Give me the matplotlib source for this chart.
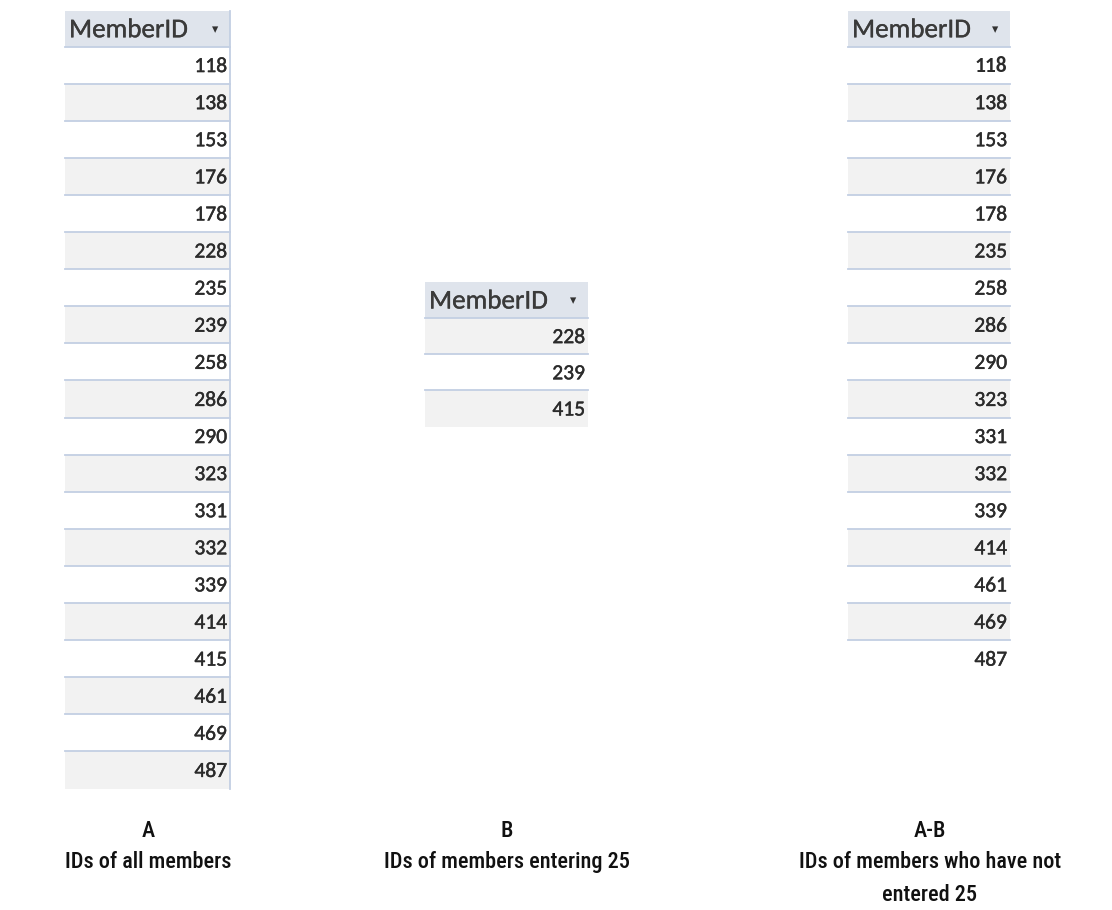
import matplotlib
matplotlib.use("Agg")
import matplotlib.pyplot as plt
from matplotlib.patches import Rectangle
import matplotlib.patheffects as pe

# data
header = "MemberID"
ids_a = [118, 138, 153, 176, 178, 228, 235, 239, 258, 286, 290, 323, 331, 332, 339, 414, 415, 461, 469, 487]
ids_b = [228, 239, 415]
ids_c = [118, 138, 153, 176, 178, 235, 258, 286, 290, 323, 331, 332, 339, 414, 461, 469, 487]
titles = ["A", "B", "A-B"]
subtitles = ["IDs of all members", "IDs of members entering 25", "IDs of members who have not\nentered 25"]

tab_font = ["Carlito", "Open Sans", "DejaVu Sans"]
cap_font = ["Roboto Condensed", "Liberation Sans Narrow", "DejaVu Sans"]

W, H = 1112, 910
fig = plt.figure(figsize=(W / 100, H / 100), dpi=100)
ax = fig.add_axes([0, 0, 1, 1])
ax.set_xlim(0, W)
ax.set_ylim(H, 0)
ax.axis("off")

hdr_bg = "#dfe4ec"
alt_bg = "#f2f2f2"
line_c = "#c3cfe3"
txt_c = "#2b2b2b"
thick = [pe.withStroke(linewidth=0.3, foreground=txt_c)]


def draw_table(values, left, right, top, hdr_h, row_h, gray_first=False, right_border=False, bold_first=False):
    ax.add_patch(Rectangle((left, top), right - left, hdr_h, color=hdr_bg, lw=0))
    ax.text(left + 4, top + hdr_h / 2 + 1, header, fontsize=19.5, family=tab_font,
            color="#3a3a3a", va="center", ha="left",
            path_effects=[pe.withStroke(linewidth=0.25, foreground="#3a3a3a")])
    ax.text(right - 15, top + hdr_h / 2 + 1, "\u25be", fontsize=9, family="DejaVu Sans",
            color="#333333", va="center", ha="center")
    for i, v in enumerate(values):
        y0 = top + hdr_h + i * row_h
        gray = (i % 2 == 1) != gray_first
        if gray:
            ax.add_patch(Rectangle((left, y0), right - left, row_h, color=alt_bg, lw=0))
        ax.plot([left, right], [y0, y0], color=line_c, lw=1.3)
        is_bold = bold_first and i == 0
        ax.text(right - 3, y0 + row_h / 2 + 1, str(v), fontsize=15.5, family=tab_font,
                color=txt_c, va="center", ha="right",
                weight="bold" if is_bold else "normal",
                path_effects=None if is_bold else thick)
    bottom = top + hdr_h + len(values) * row_h
    if right_border:
        ax.plot([right, right], [top, bottom], color=line_c, lw=1.3)


draw_table(ids_a, 65, 230, 11, 35.5, 37.1, right_border=True)
draw_table(ids_b, 425, 588, 282, 36, 36.2, gray_first=True)
draw_table(ids_c, 848, 1010, 11, 35.5, 37.1, bold_first=True)

cx = [148, 507, 930]
for x, t, s in zip(cx, titles, subtitles):
    ax.text(x, 831, t, fontsize=16, family=cap_font, weight="medium",
            color="#111111", ha="center", va="center")
    ax.text(x, 851, s, fontsize=16, family=cap_font, weight="medium",
            color="#111111", ha="center", va="top", linespacing=1.65)

fig.savefig("out.png", dpi=100)
